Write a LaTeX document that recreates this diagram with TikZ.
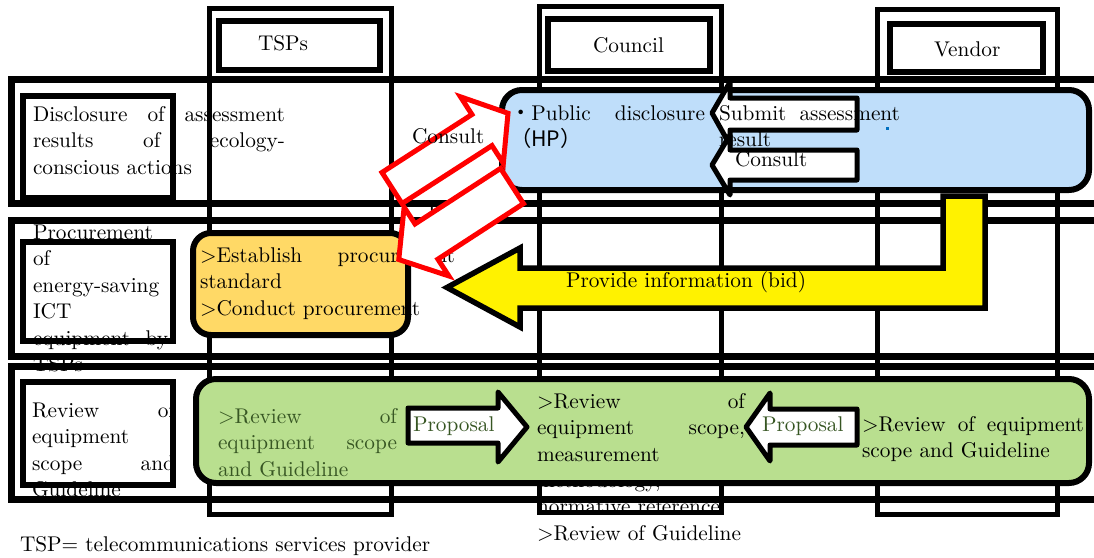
\documentclass[tikz,border=0pt]{standalone}
\usepackage{fontspec}
\setmainfont{lmroman10-regular.otf}
\newfontfamily\cjkfont{Noto Sans CJK JP}
\definecolor{boxblue}{RGB}{191,222,250}
\definecolor{boxorange}{RGB}{255,217,102}
\definecolor{boxgreen}{RGB}{185,223,143}
\definecolor{txtgreen}{RGB}{55,86,35}
\definecolor{dotblue}{RGB}{0,112,192}
\tikzset{
  rowframe/.style={draw=black, line width=7pt},
  colframe/.style={draw=black, line width=5pt},
  hdrbox/.style={draw=black, line width=5.5pt},
  lblbox/.style={draw=black, line width=5.5pt},
  roundbox/.style={line width=6pt, rounded corners=20pt},
  whitearrow/.style={draw=black, fill=white, line width=5pt, line join=round},
  redarrow/.style={draw=red, fill=white, line width=5pt, line join=miter},
  yelarrow/.style={draw=black, fill=yellow, line width=5.5pt, line join=miter},
  txt/.style={inner sep=0pt, outer sep=0pt, anchor=base west, align=left, font=\fontsize{21.3}{26.5}\selectfont},
  gtxt/.style={txt, text=txtgreen},
}
\begin{document}
\begin{tikzpicture}[x=1pt,y=-1pt]
\useasboundingbox (0,0) rectangle (1094,557);
\clip (0,0) rectangle (1094,557);
\fill[white] (0,0) rectangle (1094,557);

% texts lying under the frame lines
\node[txt, text width=252pt] (lbl1) at (33,121) {Disclosure\hfill of\hfill assessment\\results\hfill of\hfill ecology-\\conscious actions};
\node[txt, text width=135pt] (lbl2) at (33,239) {Procurement\\of\\energy-saving\\ICT\\equipment\hfill by\\TSPs};
\begin{scope}
  \clip (11,368) rectangle (180,497);
  \node[txt, text width=143pt] (lbl3) at (32,417) {Review\hfill of\\equipment\\scope\hfill and\\Guideline};
\end{scope}
\node[txt, text width=212pt] (councilB) at (537,487) {methodology,\\normative reference.\\>Review of Guideline};

% rows
\draw[rowframe] (11,79) rectangle (1120,203);
\draw[rowframe] (11,220) rectangle (1120,356);
\draw[rowframe] (11,366) rectangle (1120,499);
% columns
\draw[colframe] (209,8) rectangle (391,514);
\draw[colframe] (539,6) rectangle (721,512);
\draw[colframe] (877,9) rectangle (1057,514);
% header boxes
\draw[hdrbox] (219,21) rectangle (380,70);
\draw[hdrbox] (548,19) rectangle (710,71);
\draw[hdrbox] (890,24) rectangle (1043,72);
\node[txt] (tsps) at (258,50) {TSPs};
\node[txt] (council) at (593,52) {Council};
\node[txt] (vendor) at (934,56) {Vendor};
% row label boxes
\draw[lblbox] (23,96) rectangle (173,198);
\draw[lblbox] (23,242) rectangle (173,341);
\draw[lblbox] (23,382) rectangle (173,485);

% coloured boxes
\draw[roundbox, fill=boxblue] (502,90) rectangle (1089,190);
\fill[boxorange, rounded corners=18pt] (193,233) rectangle (408,335);
\fill[boxgreen, rounded corners=20pt] (196,379) rectangle (1089,483);

% yellow arrow
\draw[yelarrow] (447,287.5) -- (520,248) -- (520,268) -- (943,268) -- (943,196) -- (985,196) -- (985,308) -- (520,308) -- (520,327) -- cycle;
\node[txt] (bid) at (566,287) {Provide information (bid)};

% texts on the boxes
\node[txt, text width=195pt] (pub) at (510,120) {{\cjkfont ・}Public\hfill disclosure\\{\cjkfont （HP）}};
\node[txt, text width=255pt] (proc) at (200,262) {>Establish\hfill procurement\\standard\\>Conduct procurement};
\draw[line width=6pt, rounded corners=18pt] (193,233) rectangle (408,335);
\node[gtxt, text width=179pt] (tspreview) at (218,423) {>Review\hfill of\\equipment\hfill scope\\and Guideline};
\draw[line width=6pt, rounded corners=20pt] (196,379) rectangle (1089,483);
\node[txt, text width=208pt] (councilA) at (537,408) {>Review\hfill of\\equipment\hfill scope,\\measurement};
\node[txt, text width=222pt] (vendrev) at (862,431) {>Review\hfill of\hfill equipment\\scope and Guideline};

% white arrows
\draw[whitearrow] (712,113) -- (730,82) -- (730,98) -- (857,98) -- (857,130) -- (730,130) -- (730,145) -- cycle;
\node[txt, text width=181pt] (submit) at (719,120) {Submit\hfill assessment\\result};
\draw[whitearrow] (712,165) -- (730,135) -- (730,150) -- (857,150) -- (857,180) -- (730,180) -- (730,195) -- cycle;
\node[txt] (consultV) at (735,166) {Consult};
\draw[whitearrow] (408,408) -- (498,408) -- (498,392) -- (527,427) -- (498,462) -- (498,443) -- (408,443) -- cycle;
\node[gtxt] (propR) at (413,431) {Proposal};
\draw[whitearrow] (746,427) -- (770,393) -- (770,409) -- (857,409) -- (857,445) -- (770,445) -- (770,461) -- cycle;
\node[gtxt] (propL) at (762,431) {Proposal};

\fill[dotblue] (885.5,126.5) rectangle (888.5,129.5);

% label under the disclose arrow
\node[txt] (disclose) at (428,216) {Disclose};

% red arrows
\begin{scope}[shift={(392,188)}, rotate=32.8]
  \draw[redarrow] (0,-18.5) -- (107,-18.5) -- (107,-39.5) -- (138,0) -- (107,39.5) -- (107,18.5) -- (0,18.5) -- cycle;
\end{scope}
\begin{scope}[shift={(512,186)}, rotate=213]
  \draw[redarrow] (0,-21) -- (102,-21) -- (102,-41) -- (135,0) -- (102,41) -- (102,21) -- (0,21) -- cycle;
\end{scope}

% label over the consult arrow
\node[txt] (consultT) at (412,143) {Consult};

% footnote
\node[txt] (foot) at (20,551) {TSP= telecommunications services provider};
\end{tikzpicture}
\end{document}
